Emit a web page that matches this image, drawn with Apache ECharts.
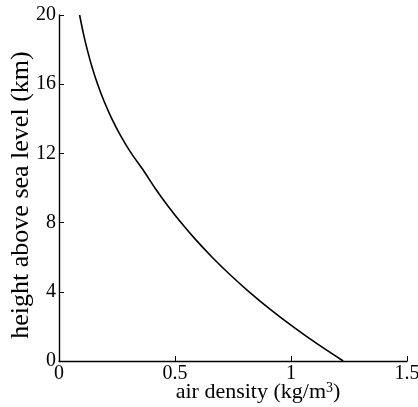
<!DOCTYPE html>
<html><head><meta charset="utf-8">
<script src="https://cdn.jsdelivr.net/npm/echarts@6/dist/echarts.min.js"></script>
<style>html,body{margin:0;padding:0;background:#fff}#c{width:418px;height:407px}</style>
</head><body><div id="c"></div>
<script>
var heights = [0,1,2,3,4,5,6,7,8,9,10,11,12,13,14,15,16,17,18,19,20];
var densities = [1.225,1.112,1.007,0.9093,0.8194,0.7364,0.6601,0.5900,0.5258,0.4671,0.4135,0.3648,0.3119,0.2666,0.2279,0.1948,0.1665,0.1423,0.1217,0.1040,0.0889];
var xTicks = [0,0.5,1,1.5];
var yTicks = [0,4,8,12,16,20];
var font = 'Liberation Serif';
var chart = echarts.init(document.getElementById('c'));
chart.setOption({
  animation:false,
  grid:{left:59,right:11,top:15,bottom:46,containLabel:false,outerBoundsMode:'none'},
  xAxis:{type:'value',min:0,max:1.5,interval:0.5,
    axisLine:{show:true,onZero:false,lineStyle:{color:'#000',width:1.4}},
    axisTick:{show:true,inside:true,length:5,lineStyle:{color:'#000',width:1}},
    splitLine:{show:false},
    axisLabel:{color:'#000',fontFamily:font,fontSize:20,margin:3,showMaxLabel:true,
      formatter:function(v){return xTicks.indexOf(v)>=0?String(v):'';}},
    name:'{t|air density (kg/m}{s|3}{t|)}',nameLocation:'middle',nameGap:20,nameMoveOverlap:false,
    nameTextStyle:{color:'#000',fontFamily:font,fontSize:22,padding:[0,0,0,50],
      rich:{t:{fontFamily:font,fontSize:22,color:'#000'},
            s:{fontFamily:font,fontSize:14,color:'#000',verticalAlign:'top'}}}},
  yAxis:{type:'value',min:0,max:20,interval:4,
    axisLine:{show:true,onZero:false,lineStyle:{color:'#000',width:1.4}},
    axisTick:{show:true,inside:true,length:5,lineStyle:{color:'#000',width:1}},
    splitLine:{show:false},
    axisLabel:{color:'#000',fontFamily:font,fontSize:20,margin:3,
      formatter:function(v){return yTicks.indexOf(v)>=0?String(v):'';}},
    name:'height above sea level (km)',nameLocation:'middle',nameGap:25,nameMoveOverlap:false,
    nameTextStyle:{color:'#000',fontFamily:font,fontSize:26,padding:[0,14,0,0]}},
  series:[{type:'line',data:heights.map(function(h,i){return [densities[i],h];}),
    smooth:0.3,showSymbol:false,lineStyle:{color:'#000',width:1.6}}]
});
</script></body></html>
